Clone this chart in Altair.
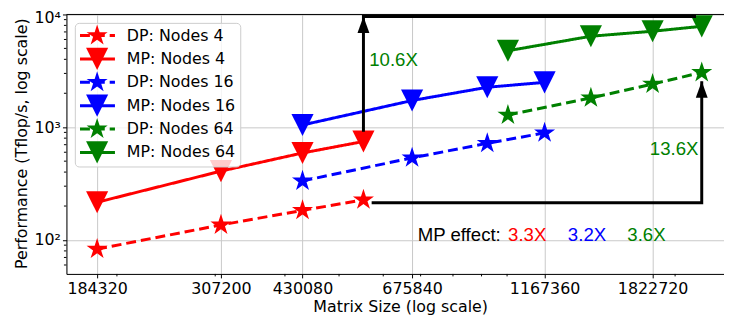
import math
import altair as alt
import pandas as pd

# ---------------- data ----------------
labels = ["DP: Nodes 4", "MP: Nodes 4", "DP: Nodes 16", "MP: Nodes 16", "DP: Nodes 64", "MP: Nodes 64"]
colors = ["#ff0000", "#ff0000", "#0000ff", "#0000ff", "#008000", "#008000"]
kinds = ["DP", "MP", "DP", "MP", "DP", "MP"]

x_nodes4 = [184320, 307200, 430080, 552960]
x_nodes16 = [430080, 675840, 921600, 1167360]
x_nodes64 = [1003520, 1413120, 1822720, 2232320]

dp_nodes4 = [83, 136, 183, 227]
mp_nodes4 = [216, 408, 591, 747]
dp_nodes16 = [334, 535, 720, 891]
mp_nodes16 = [1047, 1725, 2261, 2500]
dp_nodes64 = [1282, 1820, 2414, 3060]
mp_nodes64 = [4767, 6410, 7100, 7850]

x_ticks = [184320, 307200, 430080, 675840, 1167360, 1822720]
y_ticks = [100, 1000, 10000]
x_minor = [200000, 300000, 400000, 500000, 600000, 700000, 800000, 900000, 1000000, 2000000]
y_minor = [60, 70, 80, 90, 200, 300, 400, 500, 600, 700, 800, 900,
           2000, 3000, 4000, 5000, 6000, 7000, 8000, 9000]

# annotation arrows (data coordinates)
arrow1_x = [2180000, 552960, 552960]
arrow1_y = [9600, 9600, 910]
arrow2_x = [572000, 2232320, 2232320]
arrow2_y = [214, 214, 2560]
head_x = [552960, 2232320]
head_y = [9600, 2560]

ann_text = ["10.6X", "13.6X", "MP effect:", "3.3X", "3.2X", "3.6X"]
ann_x = [566200, 1802000, 691600, 1004000, 1285000, 1642000]
ann_y = [3494, 566, 98, 98, 98, 98]
ann_color = ["#008000", "#008000", "#000000", "#ff0000", "#0000ff", "#008000"]

# ---------------- tables ----------------
series_x = [x_nodes4, x_nodes4, x_nodes16, x_nodes16, x_nodes64, x_nodes64]
series_y = [dp_nodes4, mp_nodes4, dp_nodes16, mp_nodes16, dp_nodes64, mp_nodes64]
rows = []
for lab, kd, xs, ys in zip(labels, kinds, series_x, series_y):
    for xv, yv in zip(xs, ys):
        rows.append({"series": lab, "kind": kd, "x": xv, "y": yv})
df = pd.DataFrame(rows)

arrows = pd.DataFrame(
    [{"id": 1, "i": i, "x": a, "y": b} for i, (a, b) in enumerate(zip(arrow1_x, arrow1_y))]
    + [{"id": 2, "i": i, "x": a, "y": b} for i, (a, b) in enumerate(zip(arrow2_x, arrow2_y))]
)
heads = pd.DataFrame({"x": head_x, "y": head_y})
ann = pd.DataFrame({"t": ann_text, "x": ann_x, "y": ann_y, "c": ann_color})
xminor_df = pd.DataFrame({"x": x_minor})
yminor_df = pd.DataFrame({"y": y_minor})

# ---------------- styling ----------------
FONT = "DejaVu Sans"
ANN_FONT = "Liberation Sans"
FS = 16
AFS = 18.8
W, H = 664, 262

def star_path():
    pts = []
    for k in range(10):
        ang = math.radians(-90 + 36 * k)
        r = 1.0 if k % 2 == 0 else 0.382
        pts.append((r * math.cos(ang), r * math.sin(ang)))
    return "M" + "L".join(f"{px:.4f},{py:.4f}" for px, py in pts) + "Z"

STAR = star_path()
TRI = "M-1,-1L1,-1L0,1Z"
HEAD = "M0,0L-1,2.8L1,2.8Z"
MSIZE = 500

xscale = alt.Scale(type="log", domain=[162400, 2447000], nice=False)
yscale = alt.Scale(type="log", domain=[50, 10000], nice=False)

xaxis = alt.Axis(values=x_ticks, format="d", grid=True, gridColor="#c8c8c8", gridWidth=1,
                 domainColor="black", tickColor="black", tickSize=4, labelPadding=15.5,
                 labelBaseline="alphabetic",
                 labelFontSize=FS, labelColor="black", labelFont=FONT, labelFlush=False,
                 labelOverlap=False, title="Matrix Size (log scale)", titleFont=FONT,
                 titleFontSize=FS, titleFontWeight="normal", titleColor="black",
                 titleX=337, titleY=38.3, titleBaseline="alphabetic", titleAlign="center")
yaxis = alt.Axis(values=y_ticks,
                 labelExpr="datum.value == 100 ? '10²' : datum.value == 1000 ? '10³' : '10⁴'",
                 labelOffset={"condition": {"test": "datum.value == 10000", "value": 3}, "value": 0},
                 grid=True, gridColor="#c8c8c8", gridWidth=1, domainColor="black",
                 tickColor="black", tickSize=4, labelPadding=2, labelFontSize=FS,
                 labelColor="black", labelFont=FONT, labelBaseline="middle", labelFlush=False,
                 title="Performance (Tflop/s, log scale)", titleFont=FONT, titleFontSize=FS,
                 titleFontWeight="normal", titleColor="black", titleX=-40, titleY=130,
                 titleAngle=-90, titleBaseline="alphabetic", titleAlign="center")

color_enc = alt.Color("series:N", scale=alt.Scale(domain=labels, range=colors), legend=None)

lines = alt.Chart(df).mark_line(strokeWidth=3, clip=True).encode(
    x=alt.X("x:Q", scale=xscale, axis=xaxis),
    y=alt.Y("y:Q", scale=yscale, axis=yaxis),
    color=color_enc,
    strokeDash=alt.StrokeDash("kind:N", scale=alt.Scale(domain=["DP", "MP"], range=[[10, 5], [1, 0]]), legend=None),
    detail="series:N",
)
points = alt.Chart(df).mark_point(filled=True, opacity=1, size=MSIZE, clip=True).encode(
    x="x:Q", y="y:Q",
    color=color_enc,
    shape=alt.Shape("kind:N", scale=alt.Scale(domain=["DP", "MP"], range=[STAR, TRI]), legend=None),
)

xminor = alt.Chart(xminor_df).mark_rule(color="black", strokeWidth=1).encode(
    x="x:Q", y=alt.value(H), y2=alt.value(H + 2.5))
yminor = alt.Chart(yminor_df).mark_rule(color="black", strokeWidth=1).encode(
    y="y:Q", x=alt.value(-2.5), x2=alt.value(0))
top_spine = alt.Chart(pd.DataFrame({"a": [0]})).mark_rule(color="black", strokeWidth=1).encode(
    x=alt.value(0), x2=alt.value(W), y=alt.value(0))

arrow_lines = alt.Chart(arrows).mark_line(color="black", strokeWidth=3, strokeJoin="miter", clip=True).encode(
    x="x:Q", y="y:Q", detail="id:N", order="i:Q")
arrow_heads = alt.Chart(heads).mark_point(shape=HEAD, size=144, filled=True, color="black", opacity=1).encode(
    x="x:Q", y="y:Q")
ann_texts = alt.Chart(ann).mark_text(font=ANN_FONT, fontSize=AFS, align="left", baseline="alphabetic").encode(
    x="x:Q", y="y:Q", text="t:N", color=alt.Color("c:N", scale=None))

# legend (drawn by hand to show line + marker)
leg_layers = [alt.Chart(pd.DataFrame({"a": [0]})).mark_rect(
    cornerRadius=4, fill="white", fillOpacity=0.8, stroke="#cccccc", strokeWidth=1).encode(
    x=alt.value(9), x2=alt.value(176), y=alt.value(9), y2=alt.value(154))]
for i, (lab, col, kd) in enumerate(zip(labels, colors, kinds)):
    yy = 21.3 + i * 23.6
    dfl = pd.DataFrame({"label": [lab]})
    dash = [10, 5] if kd == "DP" else [1, 0]
    leg_layers.append(alt.Chart(dfl).mark_rule(color=col, strokeWidth=3, strokeDash=dash).encode(
        x=alt.value(13.7), x2=alt.value(49), y=alt.value(yy)))
    leg_layers.append(alt.Chart(dfl).mark_point(shape=STAR if kd == "DP" else TRI, size=MSIZE,
                                                filled=True, opacity=1, color=col).encode(
        x=alt.value(31), y=alt.value(yy)))
    leg_layers.append(alt.Chart(dfl).mark_text(font=FONT, fontSize=FS, align="left", baseline="middle",
                                               color="black").encode(
        x=alt.value(61), y=alt.value(yy), text="label:N"))

chart = alt.layer(
    lines, points, arrow_lines, arrow_heads, ann_texts, xminor, yminor, top_spine, *leg_layers
).properties(
    width=W, height=H,
    padding={"left": 59, "top": 5, "right": 0, "bottom": 45},
    autosize=alt.AutoSizeParams(type="none"),
).configure_view(stroke=None).configure(font=FONT)

chart.save("out.html", embed_options={"renderer": "svg", "actions": False})
